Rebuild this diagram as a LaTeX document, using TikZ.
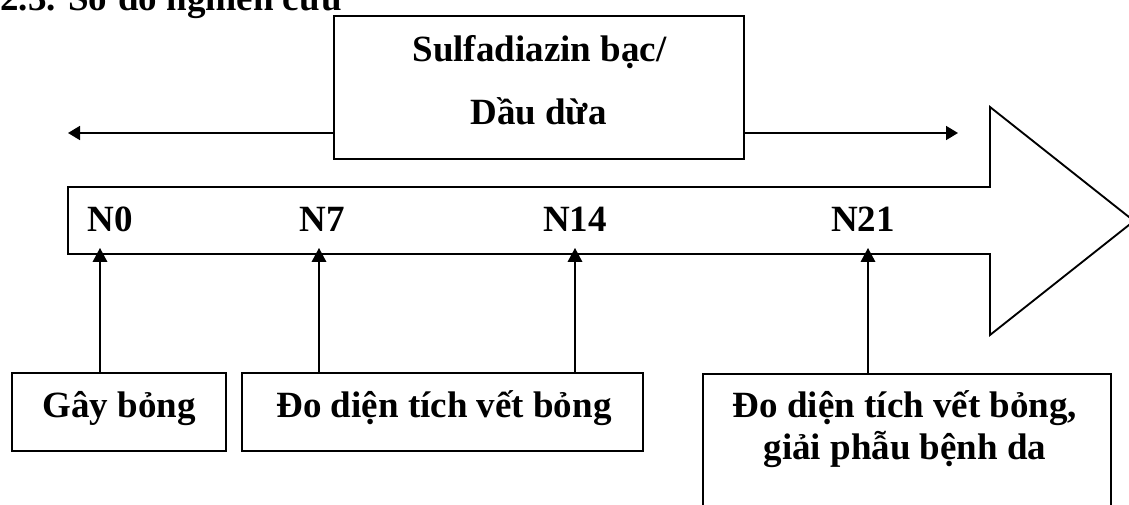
\documentclass[tikz,border=0pt]{standalone}
\usepackage{fontspec}
\setmainfont{Liberation Serif}
\usetikzlibrary{arrows.meta}
\begin{document}
\begin{tikzpicture}[x=0.75pt,y=-0.75pt,
  lbl/.style={font=\fontsize{27.75pt}{33pt}\selectfont\bfseries, inner sep=0pt, anchor=base},
  boxn/.style={draw, line width=1.4pt, inner sep=0pt, minimum width=#1},
  conn/.style={line width=1pt, -{Triangle[length=10.5pt,width=11pt]}},
  hconn/.style={line width=1.3pt, -{Triangle[length=9pt,width=10.5pt]}},
  bigarrow/.style={draw, line width=1.4pt, line join=miter}]
\useasboundingbox (0,0) rectangle (1129,505);
\clip (0,0) rectangle (1129,505);
% title (cut at top)
\node[lbl, anchor=base west] (title) at (0,11) {2.3. Sơ đồ nghiên cứu};
% big arrow
\draw[bigarrow] (68,187) -- (990,187) -- (990,107) -- (1134,221) -- (990,335) -- (990,254) -- (68,254) -- cycle;
% top box
\node[boxn=307.5pt, minimum height=107.25pt] (top) at (539,87.5) {};
\node[lbl] (s1) at (539.5,62) {Sulfadiazin bạc/};
\node[lbl] (s2) at (538.5,125) {Dầu dừa};
\coordinate (lt) at (68,133);
\coordinate (rt) at (958,133);
\draw[hconn] (top.west |- lt) -- (lt);
\draw[hconn] (top.east |- rt) -- (rt);
% day labels
\node[lbl] (n0) at (110.5,232) {N0};
\node[lbl] (n7) at (322.5,232) {N7};
\node[lbl] (n14) at (575,232) {N14};
\node[lbl] (n21) at (863,232) {N21};
% bottom boxes
\node[boxn=160.5pt, minimum height=58.5pt] (b1) at (119,412) {};
\node[lbl] (t1) at (119,418) {Gây bỏng};
\node[boxn=300.75pt, minimum height=58.5pt] (b2) at (442.5,412) {};
\node[lbl] (t2) at (444,418) {Đo diện tích vết bỏng};
\node[boxn=306pt, minimum height=120pt] (b3) at (907,454) {};
\node[lbl] (t3a) at (905,418) {Đo diện tích vết bỏng,};
\node[lbl] (t3b) at (905,460) {giải phẫu bệnh da};
% vertical arrows
\coordinate (a0) at (100,248);
\coordinate (a7) at (319,248);
\coordinate (a14) at (575,248);
\coordinate (a21) at (868,248);
\draw[conn] (b1.north -| a0) -- (a0);
\draw[conn] (b2.north -| a7) -- (a7);
\draw[conn] (b2.north -| a14) -- (a14);
\draw[conn] (b3.north -| a21) -- (a21);
\end{tikzpicture}
\end{document}
